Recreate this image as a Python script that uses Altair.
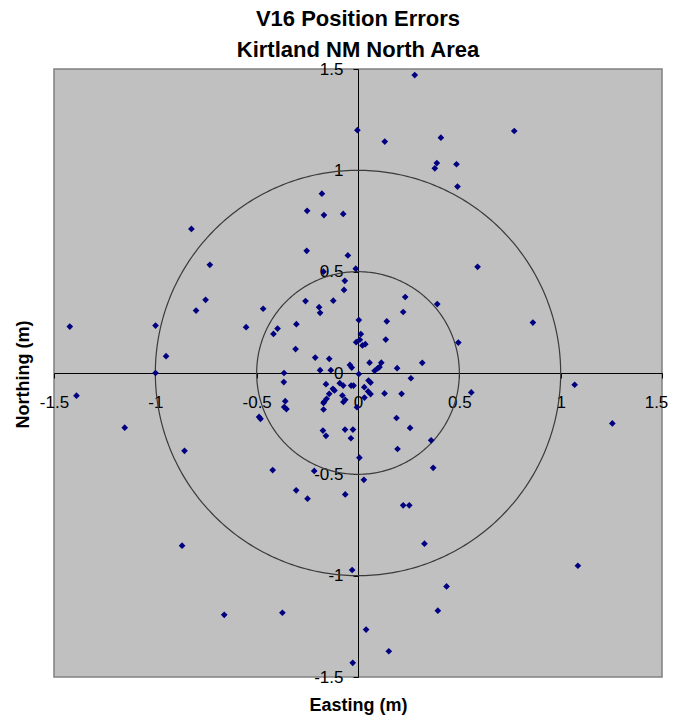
import altair as alt
import pandas as pd

# Position errors (metres)
easting = [
    -1.422, -0.999, -0.947, -0.999, -0.822, -0.731, -0.752, -0.799, -0.552, -0.468,
    -0.397, -0.417, -0.304, -0.308, -0.211, -0.142, -0.187, -0.134, -0.040, -0.031,
    0.004, -0.365, -0.259, -0.192, -0.187, -0.122, -0.069, -0.065, -0.170, -0.253,
    -0.050, -0.011, -0.251, -0.178, -0.168, -0.073, -0.003, 0.004, 0.014, -0.009,
    0.009, 0.022, 0.036,
    0.280, 0.132, 0.409, 0.771, 0.389, 0.379, 0.486, 0.491, 0.590, 0.233,
    0.223, 0.391, 0.863, 0.142, 0.137, 0.495, 0.057, 0.115, 0.082, 0.097,
    0.106, 0.193, 0.317, 0.261,
    -0.366, -0.359, -0.364, -0.353, -0.158, -0.090, -0.073, -0.034, -0.022, 0.052,
    0.062, 0.031, 0.050, 0.062, 0.032, -0.124, -0.116, -0.142, -0.155, -0.167,
    -0.170, -0.077, -0.063, -0.072, -0.170, -0.005, 0.131, 0.215, 0.190, 0.257,
    -0.173, -0.158, -0.064, -0.025, -0.035, 0.361, 0.195, 0.007, -0.216, 0.371,
    0.029, -0.488, -0.481, -0.421, -0.305, -0.249, -0.063, -1.389, -1.151, -0.856,
    -0.868, -0.660, -0.373, -0.029, -0.026, 1.069, 1.255, 0.559, 1.085, 0.437,
    0.394, 0.040, 0.152, 0.328, 0.223, 0.253,
]
northing = [
    0.229, 0.234, 0.083, 0.000, 0.711, 0.534, 0.361, 0.308, 0.226, 0.317,
    0.219, 0.193, 0.241, 0.118, 0.076, 0.070, 0.014, 0.014, 0.040, 0.027,
    -0.005, 0.000, 0.355, 0.325, 0.297, 0.357, 0.410, 0.455, 0.500, 0.603,
    0.580, 0.515, 0.800, 0.885, 0.779, 0.785, 1.198, 0.261, 0.192, 0.152,
    0.164, 0.136, 0.142,
    1.470, 1.142, 1.161, 1.194, 1.036, 1.010, 1.030, 0.920, 0.524, 0.375,
    0.301, 0.340, 0.249, 0.255, 0.165, 0.150, 0.051, 0.051, 0.011, 0.023,
    0.029, 0.024, 0.050, -0.026,
    -0.045, -0.139, -0.168, -0.178, -0.055, -0.050, -0.062, -0.062, -0.062, -0.037,
    -0.047, -0.070, -0.091, -0.104, -0.121, -0.078, -0.086, -0.103, -0.127, -0.142,
    -0.148, -0.111, -0.132, -0.143, -0.180, -0.169, -0.101, -0.103, -0.222, -0.271,
    -0.284, -0.310, -0.279, -0.279, -0.322, -0.332, -0.375, -0.418, -0.483, -0.468,
    -0.527, -0.217, -0.226, -0.479, -0.579, -0.620, -0.599, -0.112, -0.270, -0.384,
    -0.852, -1.193, -1.183, -0.972, -1.430, -0.058, -0.249, -0.096, -0.951, -1.053,
    -1.173, -1.266, -1.373, -0.842, -0.653, -0.653,
]
tick_values = [-1.5, -1.0, -0.5, 0.0, 0.5, 1.0, 1.5]
ring_radii = [0.5, 1.0]

title_lines = ["V16 Position Errors", "Kirtland NM North Area"]
x_title = "Easting (m)"
y_title = "Northing (m)"

FONT = "Liberation Sans, Arial, sans-serif"
W = 608
H = 608
HALF = 304

pts = pd.DataFrame({"east": easting, "north": northing})

xscale = alt.Scale(domain=[-1.5, 1.5], nice=False, zero=False)
yscale = alt.Scale(domain=[-1.5, 1.5], nice=False, zero=False)

xaxis = alt.Axis(
    values=tick_values, offset=-HALF, labelExpr="datum.value + ''",
    grid=False, domainColor="black", domainWidth=1, tickColor="black",
    tickSize=5, labelPadding=16, labelFont=FONT, labelFontSize=17,
    labelColor="black", labelFlush=False, labelOverlap=False,
    labelOffset={"condition": {"test": "datum.value == 1.5", "value": -6}, "value": 0},
    title=x_title, titleFont=FONT, titleFontSize=18, titleFontWeight="bold",
    titleColor="black", titleX=HALF, titleY=332, titleBaseline="middle",
    titleAlign="center",
)
yaxis = alt.Axis(
    values=tick_values, offset=-HALF, labelExpr="datum.value + ''",
    grid=False, domainColor="black", domainWidth=1, tickColor="black",
    tickSize=5, labelPadding=10, labelFont=FONT, labelFontSize=17,
    labelColor="black", labelFlush=False, labelOverlap=False,
    title=y_title, titleFont=FONT, titleFontSize=18, titleFontWeight="bold",
    titleColor="black", titleX=-335, titleY=305, titleBaseline="middle",
    titleAlign="center", titleAngle=270,
)

layers = []
for r in ring_radii:
    ring = alt.Chart(alt.sequence(0, 361, 1, as_="deg")).transform_calculate(
        cx=f"{r} * cos(datum.deg * PI / 180)",
        cy=f"{r} * sin(datum.deg * PI / 180)",
    ).mark_line(color="#3a3a3a", strokeWidth=1.2).encode(
        x=alt.X("cx:Q", scale=xscale, axis=xaxis),
        y=alt.Y("cy:Q", scale=yscale, axis=yaxis),
        order="deg:Q",
    )
    layers.append(ring)

points = alt.Chart(pts).mark_point(
    shape="diamond", filled=True, color="#000080", size=45, opacity=1
).encode(
    x=alt.X("east:Q", scale=xscale, axis=xaxis),
    y=alt.Y("north:Q", scale=yscale, axis=yaxis),
)
layers.append(points)

chart = alt.layer(*layers).properties(
    width=W, height=H,
    background="white",
    title=alt.TitleParams(
        text=title_lines, font=FONT, fontSize=22, fontWeight="bold",
        color="black", anchor="middle", frame="group", lineHeight=31,
        baseline="bottom", offset=-24,
    ),
    autosize=alt.AutoSizeParams(type="none"),
    padding={"left": 46, "top": 61, "right": 7, "bottom": 38},
).configure_view(
    fill="#C0C0C0", stroke="#808080", strokeWidth=1.5
)

chart.save("out.html", embed_options={"renderer": "svg", "actions": False})
